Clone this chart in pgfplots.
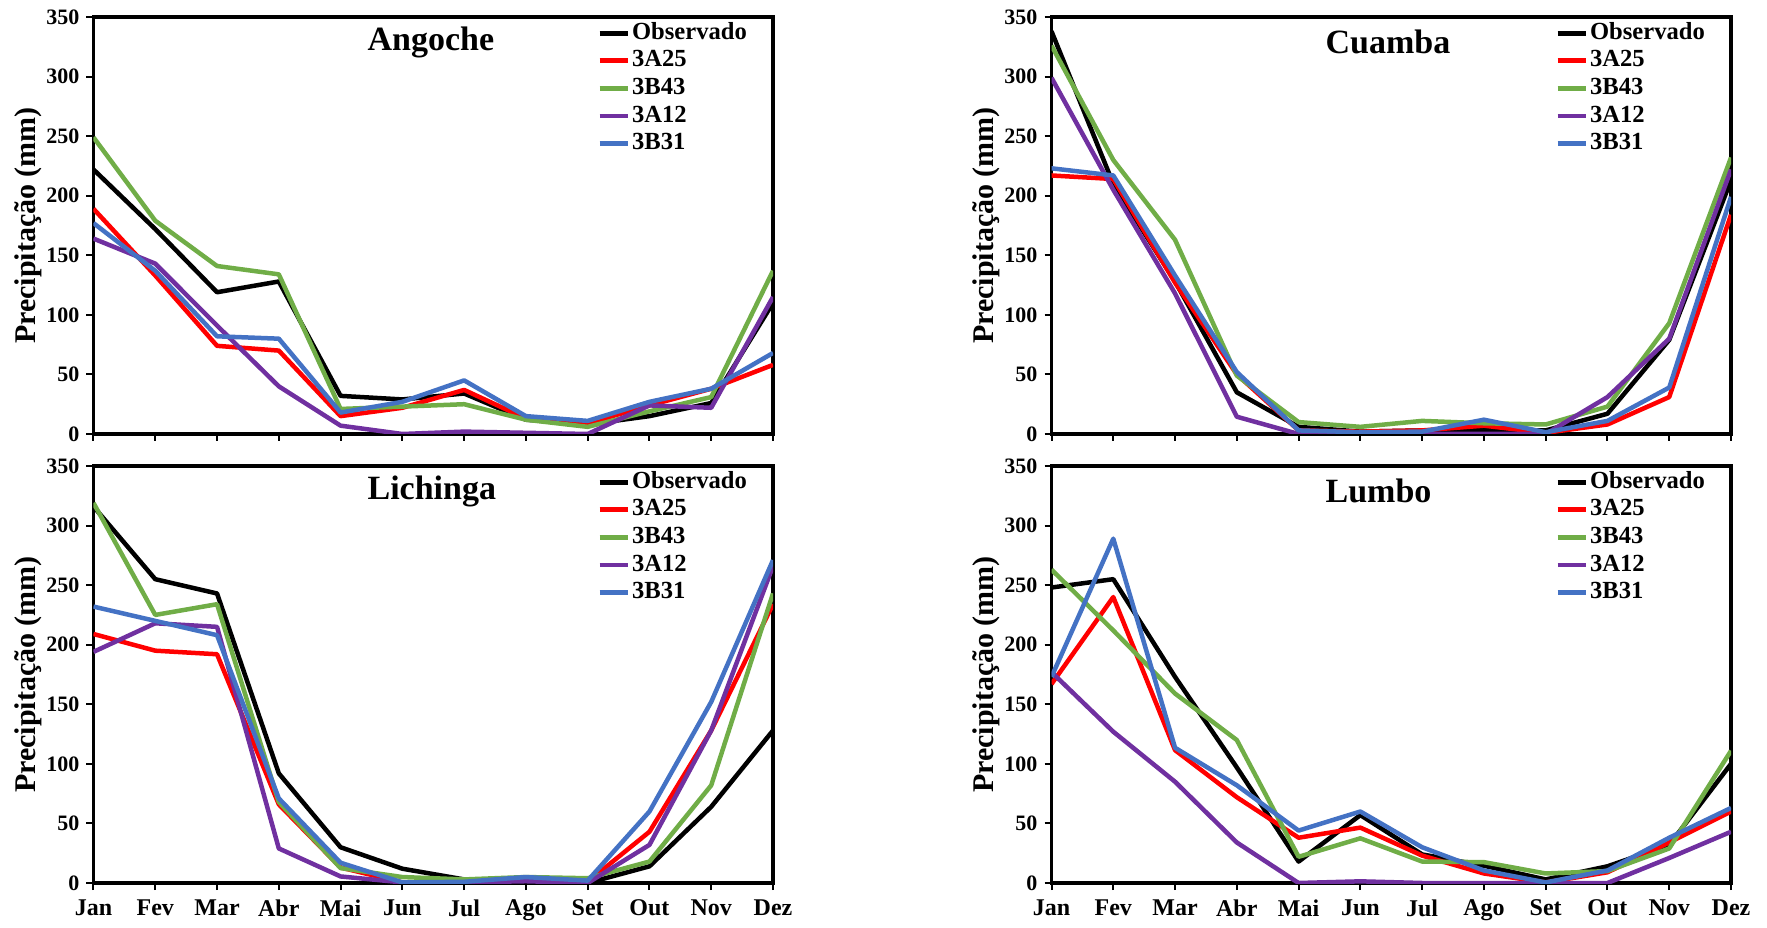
\documentclass[border=0pt]{standalone}
\usepackage{fontspec}
\setmainfont{Liberation Serif}
\usepackage{pgfplots}
\usepackage{pgfplotstable}
\pgfplotsset{compat=1.18}
\definecolor{cObs}{RGB}{0,0,0}
\definecolor{cA25}{RGB}{255,0,0}
\definecolor{cB43}{RGB}{112,173,71}
\definecolor{cA12}{RGB}{112,48,160}
\definecolor{cB31}{RGB}{68,114,196}

% columns: month obs a25 b43 a12 b31
\pgfplotstableread{
m obs a25 b43 a12 b31
0 222 189 249 164 177
1 172 133 179 143 137
2 119 74 141 91 82
3 128 70 134 40 80
4 32 15 21 7 18
5 29 22 23 0 27
6 34 37 25 2 45
7 12 13 12 1 15
8 8 9 6 0 11
9 15 24 19 24 27
10 26 38 31 22 38
11 110 58 137 115 68
}\angoche
\pgfplotstableread{
m obs a25 b43 a12 b31
0 338 217 326 299 223
1 210 214 230 205 217
2 128 127 163 118 133
3 35 50 49 14.5 52
4 6 3 10 0 3
5 2 2 6 0 1.5
6 3 3 11 0 2
7 3 7 9 0 12
8 3 1 8 0 1.5
9 17 8 23 31 11
10 79 31 93 80 39
11 213 184 232 222 199
}\cuamba
\pgfplotstableread{
m obs a25 b43 a12 b31
0 316 209 319 194 232
1 255 195 225 218 220
2 243 192 234 215 208
3 92 66 68 29 71
4 30 13 12.5 5.5 17
5 12 0.5 5 0.5 0.5
6 3 1 3 0.5 1
7 0.5 3 5 1.5 5
8 0 1 4 0 2
9 14 43 18 32 60
10 64 128 82 128 152
11 128 234 243 266 271
}\lichinga
\pgfplotstableread{
m obs a25 b43 a12 b31
0 248 167 263 177 173
1 255 240 212 127 289
2 173 111.5 159 85 113.5
3 97 72 120 34 82
4 18 38 22 0 44
5 57 46.5 37.5 1.4 60
6 24 23 18 0 30
7 14.5 8 17.5 0 10.5
8 3 0.5 8 0 0.5
9 14 9 10 0 10.5
10 32 34 29 21 38
11 100 60 111 43 63
}\lumbo

\pgfplotsset{panel/.style={
  scale only axis, width=339.75pt, height=208.5pt,
  xmin=0, xmax=11, ymin=0, ymax=350,
  ytick={0,50,...,350}, xtick={0,...,11},
  axis line style={line width=1.6pt},
  tick style={line width=1pt, black},
  tick align=outside, major tick length=3.5pt,
  xtick pos=bottom, ytick pos=left,
  /pgf/number format/assume math mode=true,
  every tick label/.append style={font=\bfseries\fontsize{11}{11}\selectfont},
  xticklabel style={font=\bfseries\fontsize{12}{12}\selectfont, yshift=-1.5pt},
  ylabel={Precipitação (mm)},
  every axis y label/.style={at={(axis description cs:-0.0957,0.5)}, rotate=90, anchor=center, font=\bfseries\fontsize{15}{15}\selectfont},
  legend style={draw=none, fill=none, at={(0.732,0.999)}, anchor=north west,
    font=\bfseries\fontsize{12.3}{12.3}\selectfont,
    nodes={inner sep=0pt, text height=8.7pt, text depth=2.6pt},
    row sep=2.5pt, column sep=1pt},
  legend cell align=left,
  legend image code/.code={\draw[#1, line width=2.4pt] (0pt,0pt) -- (14pt,0pt);},
  every axis plot/.append style={line width=2.25pt, line join=round, no markers},
}}

\newcommand{\series}[1]{%
  \addplot[cObs] table[x=m,y=obs]{#1};
  \addplot[cA25] table[x=m,y=a25]{#1};
  \addplot[cB43] table[x=m,y=b43]{#1};
  \addplot[cA12] table[x=m,y=a12]{#1};
  \addplot[cB31] table[x=m,y=b31]{#1};
  \legend{Observado,3A25,3B43,3A12,3B31}
}

\begin{document}
\begin{tikzpicture}
\useasboundingbox (-46.75pt,-22pt) rectangle (836.75pt,441.5pt);
\begin{axis}[panel, at={(0pt,224.5pt)}, anchor=south west, xticklabels={}]
  \series{\angoche}
  \node[anchor=west, font=\bfseries\fontsize{17}{17}\selectfont] at (rel axis cs:0.393,0.94) {Angoche};
\end{axis}
\begin{axis}[panel, at={(479pt,224.5pt)}, anchor=south west, xticklabels={}]
  \series{\cuamba}
  \node[anchor=west, font=\bfseries\fontsize{17}{17}\selectfont] at (rel axis cs:0.393,0.94) {Cuamba};
\end{axis}
\begin{axis}[panel, at={(0pt,0pt)}, anchor=south west,
  xticklabels={Jan,Fev,Mar,Abr,Mai,Jun,Jul,Ago,Set,Out,Nov,Dez}]
  \series{\lichinga}
  \node[anchor=west, font=\bfseries\fontsize{17}{17}\selectfont] at (rel axis cs:0.393,0.94) {Lichinga};
\end{axis}
\begin{axis}[panel, at={(479pt,0pt)}, anchor=south west,
  xticklabels={Jan,Fev,Mar,Abr,Mai,Jun,Jul,Ago,Set,Out,Nov,Dez}]
  \series{\lumbo}
  \node[anchor=west, font=\bfseries\fontsize{17}{17}\selectfont] at (rel axis cs:0.393,0.94) {Lumbo};
\end{axis}
\end{tikzpicture}
\end{document}
